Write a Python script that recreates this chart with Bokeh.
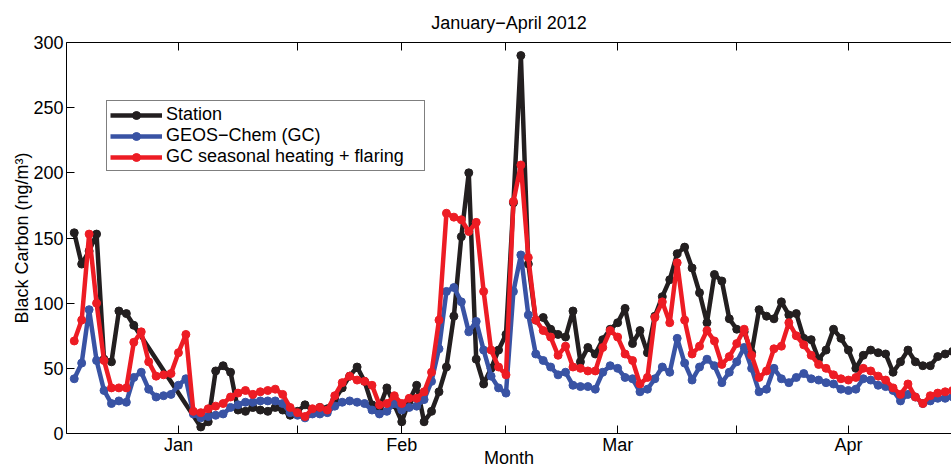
from bokeh.plotting import figure
from bokeh.models import Range1d, FixedTicker, LinearAxis, Legend, LegendItem
from bokeh.embed import file_html
from bokeh.resources import INLINE

# ---- data (day index, 1 = first day of January 2012) ----
days = list(range(1, 120))

station_days = list(range(1, 10)) + list(range(18, 120))
station = [154, 130, 140, 153, 57, 55, 94, 92, 83,
           5, 9, 48, 52, 47, 18, 17, 20, 18, 17, 20, 18, 14, 17, 22, 18, 20, 19, 26, 35, 44, 51, 40,
           22, 20, 35, 22, 9, 25, 37, 9, 17, 32, 51, 90, 151, 200, 57, 38, 50, 64, 76, 177, 290, 130,
           87, 89, 80, 76, 74, 94, 55, 66, 61, 72, 80, 85, 96, 69, 79, 62, 90, 105, 118, 138, 143,
           127, 108, 85, 122, 117, 88, 80, 78, 62, 95, 90, 88, 101, 91, 92, 73, 72, 57, 64, 80, 73,
           64, 50, 60, 64, 62, 61, 47, 55, 64, 55, 52, 52, 59, 61, 63]

geos_chem = [42, 54, 95, 56, 33, 23, 25, 24, 43, 47, 34, 28, 29, 30, 37, 42, 15, 12, 13, 14,
             15, 20, 22, 24, 24, 25, 25, 25, 23, 16, 14, 12, 15, 15, 16, 21, 24, 25, 24, 23,
             18, 15, 17, 23, 18, 20, 21, 26, 40, 65, 109, 112, 101, 78, 86, 64, 44, 35, 31, 109,
             137, 91, 61, 56, 51, 45, 47, 37, 36, 36, 34, 47, 52, 50, 43, 42, 32, 34, 42, 51,
             47, 73, 54, 41, 51, 57, 52, 39, 47, 55, 66, 50, 32, 34, 50, 42, 39, 43, 46, 42,
             41, 39, 38, 34, 33, 34, 42, 41, 37, 36, 33, 25, 30, 28, 23, 25, 27, 27, 28]

gc_heating = [71, 87, 153, 100, 56, 35, 35, 35, 70, 78, 55, 44, 45, 46, 62, 76, 17, 16, 19, 21,
              23, 28, 31, 33, 30, 32, 33, 34, 30, 20, 16, 13, 19, 20, 18, 29, 39, 44, 41, 40,
              37, 22, 23, 29, 23, 27, 27, 32, 47, 87, 169, 166, 164, 155, 162, 109, 64, 51, 45, 178,
              206, 135, 87, 79, 74, 60, 67, 51, 50, 48, 48, 66, 79, 74, 61, 56, 38, 43, 89, 101,
              85, 131, 87, 61, 67, 79, 71, 53, 59, 69, 80, 60, 43, 48, 65, 67, 85, 75, 68, 60,
              53, 50, 45, 42, 41, 43, 50, 48, 44, 41, 35, 30, 38, 28, 23, 29, 31, 32, 33]

month_ticks = [15, 31, 45, 59, 74, 90, 105]
month_labels = {15: "Jan", 31: "", 45: "Feb", 59: "", 74: "Mar", 90: "", 105: "Apr"}
y_ticks = [0, 50, 100, 150, 200, 250, 300]

series_names = ["Station", "GEOS\u2212Chem (GC)", "GC seasonal heating + flaring"]
series_colors = ["#231f20", "#3953a4", "#ed1c24"]

FONT = "Liberation Sans"

p = figure(width=951, height=470, output_backend="svg", toolbar_location=None,
           title="January\u2212April 2012",
           x_range=Range1d(-0.04, 118.85), y_range=Range1d(0, 300),
           min_border_left=66, min_border_right=0, min_border_top=42, min_border_bottom=37)
p.outline_line_color = None
p.xgrid.visible = False
p.ygrid.visible = False
p.background_fill_color = "white"

p.title.align = "center"
p.title.text_font = FONT
p.title.text_font_size = "18px"
p.title.text_font_style = "normal"
p.title.text_color = "black"
p.title.standoff = 20

# bottom axis
xa = p.xaxis[0]
xa.ticker = FixedTicker(ticks=month_ticks)
xa.major_label_overrides = month_labels
# left axis
ya = p.yaxis[0]
ya.ticker = FixedTicker(ticks=y_ticks)
# top axis (box line + inward ticks, no labels)
top = LinearAxis(ticker=FixedTicker(ticks=month_ticks), major_label_text_font_size="0px",
                 major_label_standoff=0)
p.add_layout(top, "above")

for ax in (xa, ya, top):
    ax.major_tick_in = 8
    ax.major_tick_out = 0
    ax.minor_tick_in = 0
    ax.minor_tick_out = 0
    ax.axis_line_color = "black"
    ax.axis_line_width = 1
    ax.major_tick_line_color = "black"
    ax.major_label_text_font = FONT
    ax.major_label_text_color = "black"
for ax in (xa, ya):
    ax.major_label_text_font_size = "18px"
    ax.axis_label_text_font = FONT
    ax.axis_label_text_font_size = "18px"
    ax.axis_label_text_font_style = "normal"
    ax.axis_label_text_color = "black"

ya.major_label_standoff = 3
ya.axis_label = "Black Carbon (ng/m\u00b3)"
ya.axis_label_standoff = -2
xa.major_label_standoff = 1
xa.axis_label = "Month"
xa.axis_label_standoff = -10

series = [(station_days, station), (days, geos_chem), (days, gc_heating)]
items = []
for (xs, ys), name, col in zip(series, series_names, series_colors):
    ln = p.line(xs, ys, line_color=col, line_width=4.5, line_join="round")
    sc = p.scatter(xs, ys, marker="circle", size=8, fill_color=col, line_color=col)
    items.append(LegendItem(label=name, renderers=[ln, sc]))

legend = Legend(items=items, location=(40, 262), orientation="vertical",
                label_text_font=FONT, label_text_font_size="18px", label_text_color="black",
                glyph_width=52, glyph_height=20, label_standoff=4, label_width=255,
                padding=3, spacing=0, margin=0,
                border_line_color="black", border_line_width=1,
                background_fill_color="white", background_fill_alpha=1.0)
p.add_layout(legend, "center")

open("out.html", "w").write(file_html(p, INLINE))
